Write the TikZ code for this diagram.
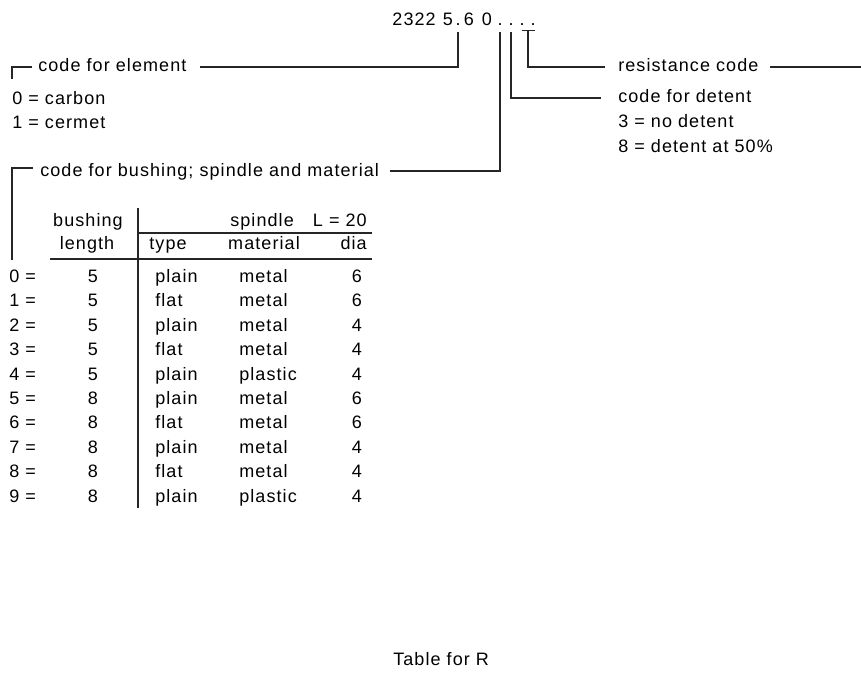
\documentclass[tikz,border=0pt]{standalone}
\usepackage{fontspec}
\setmainfont[LetterSpace=6]{Liberation Sans}
\usetikzlibrary{calc}
\newcommand\dgfont{\fontsize{13.5}{16}\selectfont}
\begin{document}
\begin{tikzpicture}[x=0.75pt,y=-0.75pt,
  txt/.style={inner sep=0pt,font=\dgfont,text=black},
  ln/.style={line width=1pt,draw=black!85}]
\useasboundingbox (0,0) rectangle (861,675);
% ---- type number
\node[txt,anchor=base east] (n2322) at (436,25) {2322};
\node[txt,anchor=base] (n5) at (448,25) {5};
\node[txt,anchor=base] (dec) at (458,25) {.};
\node[txt,anchor=base] (n6) at (469,25) {6};
\node[txt,anchor=base] (n0) at (487,25) {0};
\node[txt,anchor=base] (p1) at (500,25) {.};
\node[txt,anchor=base] (p2) at (511,25) {.};
\node[txt,anchor=base] (p3) at (522,25) {.};
\node[txt,anchor=base] (p4) at (533,25) {.};
% ---- left labels
\node[txt,anchor=mid west] (elem) at (38,68) {code for element};
\node[txt,anchor=mid west] (carb) at (12,101) {0 = carbon};
\node[txt,anchor=mid west] (cerm) at (12,125) {1 = cermet};
\node[txt,anchor=mid west] (bush) at (40,173) {code for bushing; spindle and material};
% ---- right labels
\node[txt,anchor=mid west] (resi) at (618,68) {resistance code};
\node[txt,anchor=mid west] (dete) at (618,99) {code for detent};
\node[txt,anchor=mid west] (nod) at (618,124) {3 = no detent};
\node[txt,anchor=mid west] (d50) at (618,149) {8 = detent at 50\%};
% ---- connectors
\coordinate (eA) at ($(dec.south)+(0,7)$);
\coordinate (eB) at (200,67);
\draw[ln] (eA) |- (eB);
\coordinate (bA) at ($(p1.south)+(0,7)$);
\coordinate (bB) at (390,171);
\draw[ln] (bA) |- (bB);
\coordinate (dA) at ($(p2.south)+(0,7)$);
\coordinate (dB) at (601,98);
\draw[ln] (dA) |- (dB);
\coordinate (tL) at ($(p3.south)+(0,5)$);
\coordinate (tR) at ($(p4.south)+(2,5)$);
\draw[ln] (tL) -- (tR);
\coordinate (tM) at (528,30);
\coordinate (rB) at (605,67);
\draw[ln] (tM) |- (rB);
\coordinate (rS) at (770,67);
\coordinate (rE) at (861,67);
\draw[ln] (rS) -- (rE);
% ---- corners
\coordinate (ec1) at (12,79);
\coordinate (ec2) at (32,67);
\draw[ln] (ec1) |- (ec2);
\coordinate (bc1) at (12,260);
\coordinate (bc2) at (33,168);
\draw[ln] (bc1) |- (bc2);
% ---- table header
\node[txt,anchor=mid] (hbush) at (88,223) {bushing};
\node[txt,anchor=mid] (hlen) at (87,245.5) {length};
\node[txt,anchor=mid west] (hspin) at (230,223) {spindle};
\node[txt,anchor=mid east] (hL) at (367,223) {L = 20};
\node[txt,anchor=mid] (htype) at (168,245.5) {type};
\node[txt,anchor=mid] (hmat) at (264,245.5) {material};
\node[txt,anchor=mid east] (hdia) at (367,245.5) {dia};
% ---- table rules
\coordinate (sepT) at (138,208);
\coordinate (sepB) at (138,508);
\draw[ln] (sepT) -- (sepB);
\coordinate (spL) at (138,233);
\coordinate (spR) at (372,233);
\draw[ln] (spL) -- (spR);
\coordinate (ruL) at (50,259);
\coordinate (ruR) at (372,259);
\draw[ln] (ruL) -- (ruR);
% ---- table body
\foreach \i/\bl/\ty/\ma/\di in {0/5/plain/metal/6,1/5/flat/metal/6,2/5/plain/metal/4,3/5/flat/metal/4,4/5/plain/plastic/4,5/8/plain/metal/6,6/8/flat/metal/6,7/8/plain/metal/4,8/8/flat/metal/4,9/8/plain/plastic/4}{
  \node[txt,anchor=mid west] (c\i) at (9,{279+24.4*\i}) {\i{} =};
  \node[txt,anchor=mid] (b\i) at (93,{279+24.4*\i}) {\bl};
  \node[txt,anchor=mid west] (t\i) at (155,{279+24.4*\i}) {\ty};
  \node[txt,anchor=mid west] (m\i) at (239,{279+24.4*\i}) {\ma};
  \node[txt,anchor=mid] (d\i) at (357,{279+24.4*\i}) {\di};
}
% ---- caption
\node[txt,anchor=base west] (cap) at (393,665) {Table for R};
\end{tikzpicture}
\end{document}
